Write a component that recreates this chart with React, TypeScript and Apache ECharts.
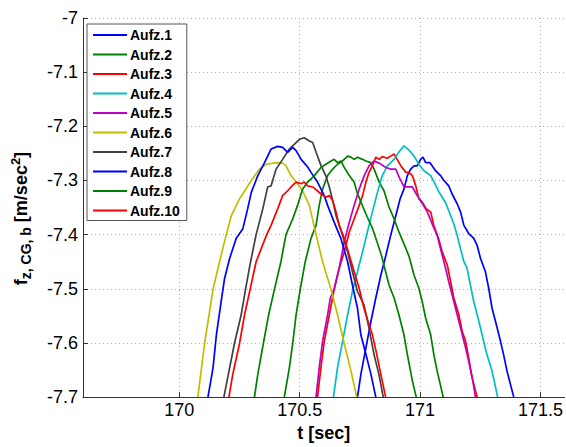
import React, { useEffect, useRef } from "react";
import * as echarts from "echarts";

const seriesNames = ["Aufz.1", "Aufz.2", "Aufz.3", "Aufz.4", "Aufz.5", "Aufz.6", "Aufz.7", "Aufz.8", "Aufz.9", "Aufz.10"];
const seriesColors = ["#0000ff", "#008000", "#ff0000", "#00bfbf", "#bf00bf", "#bfbf00", "#404040", "#0000ff", "#008000", "#ff0000"];

const xTicks = [170, 170.5, 171, 171.5];

const aufz1: [number, number][] = [
  [170.740, -7.700], [170.754, -7.658], [170.775, -7.609], [170.796, -7.560], [170.816, -7.517], [170.837, -7.475],
  [170.858, -7.438], [170.878, -7.401], [170.899, -7.365], [170.917, -7.334], [170.933, -7.316], [170.947, -7.291],
  [170.961, -7.279], [170.975, -7.273], [170.988, -7.273], [171.002, -7.261], [171.012, -7.257], [171.023, -7.267],
  [171.040, -7.267], [171.050, -7.273], [171.064, -7.282], [171.085, -7.291], [171.099, -7.300], [171.119, -7.310],
  [171.133, -7.325], [171.154, -7.343], [171.168, -7.358], [171.182, -7.383], [171.202, -7.398], [171.223, -7.407],
  [171.237, -7.420], [171.251, -7.444], [171.271, -7.468], [171.285, -7.499], [171.299, -7.536], [171.320, -7.572],
  [171.334, -7.597], [171.347, -7.622], [171.361, -7.652], [171.389, -7.700],
];

const aufz2: [number, number][] = [
  [170.436, -7.700], [170.457, -7.646], [170.471, -7.601], [170.485, -7.548], [170.503, -7.499], [170.523, -7.450],
  [170.547, -7.407], [170.568, -7.383], [170.581, -7.346], [170.595, -7.316], [170.616, -7.291], [170.637, -7.279],
  [170.657, -7.270], [170.678, -7.264], [170.699, -7.255], [170.713, -7.257], [170.726, -7.261], [170.740, -7.257],
  [170.761, -7.261], [170.775, -7.264], [170.795, -7.267], [170.809, -7.279], [170.830, -7.303], [170.850, -7.319],
  [170.871, -7.349], [170.892, -7.371], [170.912, -7.395], [170.933, -7.417], [170.954, -7.440], [170.975, -7.475],
  [170.995, -7.499], [171.009, -7.524], [171.023, -7.554], [171.044, -7.585], [171.057, -7.621], [171.071, -7.652],
  [171.096, -7.700],
];

const aufz3: [number, number][] = [
  [170.574, -7.700], [170.588, -7.646], [170.602, -7.597], [170.623, -7.548], [170.644, -7.499], [170.664, -7.462],
  [170.685, -7.432], [170.706, -7.395], [170.726, -7.371], [170.747, -7.346], [170.761, -7.328], [170.775, -7.303],
  [170.788, -7.285], [170.802, -7.273], [170.816, -7.257], [170.830, -7.261], [170.843, -7.256], [170.864, -7.259],
  [170.878, -7.255], [170.892, -7.251], [170.906, -7.262], [170.920, -7.273], [170.940, -7.285], [170.954, -7.285],
  [170.968, -7.291], [170.982, -7.310], [170.995, -7.334], [171.009, -7.340], [171.025, -7.352], [171.044, -7.358],
  [171.057, -7.383], [171.078, -7.409], [171.092, -7.432], [171.113, -7.456], [171.127, -7.487], [171.140, -7.517],
  [171.161, -7.548], [171.175, -7.579], [171.189, -7.597], [171.202, -7.628], [171.216, -7.664], [171.237, -7.700],
];

const aufz4: [number, number][] = [
  [170.640, -7.700], [170.657, -7.646], [170.678, -7.597], [170.699, -7.548], [170.719, -7.505], [170.740, -7.468],
  [170.761, -7.432], [170.781, -7.395], [170.802, -7.358], [170.823, -7.322], [170.843, -7.291], [170.864, -7.273],
  [170.892, -7.261], [170.913, -7.247], [170.933, -7.236], [170.954, -7.244], [170.975, -7.255], [170.995, -7.270],
  [171.016, -7.282], [171.044, -7.291], [171.064, -7.308], [171.078, -7.321], [171.092, -7.331], [171.106, -7.341],
  [171.119, -7.356], [171.140, -7.380], [171.154, -7.401], [171.168, -7.426], [171.182, -7.450], [171.195, -7.462],
  [171.209, -7.493], [171.223, -7.524], [171.244, -7.560], [171.264, -7.597], [171.278, -7.622], [171.299, -7.652],
  [171.322, -7.700],
];

const aufz5: [number, number][] = [
  [170.568, -7.700], [170.581, -7.646], [170.595, -7.597], [170.616, -7.548], [170.627, -7.517], [170.644, -7.499],
  [170.664, -7.462], [170.685, -7.413], [170.706, -7.377], [170.726, -7.346], [170.747, -7.316], [170.768, -7.291],
  [170.788, -7.273], [170.809, -7.264], [170.830, -7.268], [170.858, -7.276], [170.878, -7.279], [170.899, -7.279],
  [170.913, -7.294], [170.933, -7.312], [170.968, -7.312], [170.988, -7.328], [171.002, -7.337], [171.030, -7.358],
  [171.050, -7.380], [171.071, -7.401], [171.085, -7.426], [171.106, -7.462], [171.119, -7.487], [171.133, -7.511],
  [171.154, -7.548], [171.168, -7.572], [171.189, -7.609], [171.202, -7.634], [171.219, -7.670], [171.230, -7.700],
];

const aufz6: [number, number][] = [
  [170.077, -7.700], [170.105, -7.601], [170.140, -7.501], [170.167, -7.450], [170.195, -7.400], [170.216, -7.365],
  [170.250, -7.334], [170.299, -7.300], [170.333, -7.279], [170.361, -7.270], [170.402, -7.267], [170.429, -7.268],
  [170.443, -7.273], [170.464, -7.291], [170.485, -7.303], [170.512, -7.319], [170.540, -7.346], [170.568, -7.400],
  [170.595, -7.450], [170.630, -7.501], [170.657, -7.548], [170.685, -7.601], [170.713, -7.652], [170.737, -7.700],
];

const aufz7: [number, number][] = [
  [170.185, -7.700], [170.209, -7.646], [170.229, -7.601], [170.257, -7.548], [170.275, -7.501], [170.296, -7.450],
  [170.319, -7.400], [170.347, -7.352], [170.367, -7.312], [170.381, -7.310], [170.402, -7.279], [170.429, -7.261],
  [170.457, -7.242], [170.485, -7.230], [170.499, -7.224], [170.519, -7.221], [170.540, -7.227], [170.554, -7.230],
  [170.568, -7.248], [170.589, -7.273], [170.609, -7.292], [170.623, -7.312], [170.637, -7.337], [170.651, -7.365],
  [170.678, -7.401], [170.699, -7.432], [170.719, -7.468], [170.740, -7.505], [170.767, -7.530], [170.788, -7.573],
  [170.809, -7.622], [170.829, -7.658], [170.847, -7.700],
];

const aufz8: [number, number][] = [
  [170.119, -7.700], [170.140, -7.646], [170.154, -7.585], [170.174, -7.523], [170.188, -7.481], [170.209, -7.444],
  [170.236, -7.407], [170.264, -7.389], [170.284, -7.352], [170.299, -7.322], [170.326, -7.291], [170.354, -7.267],
  [170.381, -7.242], [170.409, -7.237], [170.429, -7.239], [170.450, -7.248], [170.471, -7.239], [170.485, -7.245],
  [170.506, -7.261], [170.533, -7.275], [170.547, -7.285], [170.574, -7.303], [170.602, -7.328], [170.616, -7.346],
  [170.643, -7.377], [170.671, -7.407], [170.699, -7.450], [170.719, -7.493], [170.740, -7.536], [170.754, -7.585],
  [170.775, -7.621], [170.796, -7.658], [170.816, -7.700],
];

const aufz9: [number, number][] = [
  [170.312, -7.700], [170.326, -7.658], [170.349, -7.601], [170.371, -7.548], [170.395, -7.501], [170.422, -7.450],
  [170.443, -7.400], [170.471, -7.371], [170.491, -7.346], [170.512, -7.316], [170.533, -7.303], [170.561, -7.291],
  [170.588, -7.276], [170.609, -7.270], [170.630, -7.264], [170.643, -7.261], [170.657, -7.267], [170.671, -7.264],
  [170.685, -7.276], [170.706, -7.291], [170.726, -7.303], [170.739, -7.323], [170.759, -7.345], [170.780, -7.367],
  [170.801, -7.387], [170.821, -7.413], [170.840, -7.439], [170.871, -7.493], [170.892, -7.517], [170.912, -7.548],
  [170.933, -7.585], [170.947, -7.621], [170.968, -7.670], [170.984, -7.700],
];

const aufz10: [number, number][] = [
  [170.206, -7.700], [170.222, -7.658], [170.250, -7.601], [170.271, -7.548], [170.294, -7.501], [170.319, -7.450],
  [170.363, -7.400], [170.381, -7.383], [170.409, -7.352], [170.429, -7.328], [170.450, -7.319], [170.464, -7.312],
  [170.485, -7.303], [170.506, -7.306], [170.519, -7.303], [170.533, -7.310], [170.554, -7.312], [170.589, -7.325],
  [170.609, -7.331], [170.623, -7.328], [170.637, -7.337], [170.651, -7.358], [170.664, -7.383], [170.685, -7.407],
  [170.706, -7.438], [170.726, -7.468], [170.747, -7.499], [170.767, -7.536], [170.788, -7.566], [170.802, -7.585],
  [170.820, -7.621], [170.837, -7.658], [170.857, -7.700],
];

const allData = [aufz1, aufz2, aufz3, aufz4, aufz5, aufz6, aufz7, aufz8, aufz9, aufz10];

const FONT = "'Liberation Sans', Arial, Helvetica, sans-serif";

export default function App() {
  const ref = useRef<HTMLDivElement>(null);
  useEffect(() => {
    if (!ref.current) return;
    const chart = echarts.init(ref.current, undefined, { renderer: "svg" });
    chart.setOption({
      animation: false,
      backgroundColor: "#ffffff",
      grid: { left: 83, top: 18, right: 0, bottom: 47, containLabel: false },
      legend: {
        orient: "vertical",
        left: 87,
        top: 24,
        padding: [4, 7, 3, 6],
        itemGap: 5.5,
        itemWidth: 34,
        itemHeight: 2,
        icon: "rect",
        backgroundColor: "#ffffff",
        borderColor: "#555555",
        borderWidth: 1,
        borderRadius: 0,
        textStyle: { fontFamily: FONT, fontSize: 14, fontWeight: "bold", color: "#000", lineHeight: 14, padding: [0, 0, 0, -2] },
        data: seriesNames,
      },
      xAxis: {
        type: "value",
        min: 169.6,
        max: 171.6,
        axisLine: { show: true, onZero: false, lineStyle: { color: "#333", width: 1 } },
        axisTick: { show: true, inside: true, length: 5, customValues: xTicks, lineStyle: { color: "#333" } },
        axisLabel: {
          customValues: xTicks,
          margin: 4,
          fontFamily: FONT,
          fontSize: 18,
          color: "#000",
          formatter: (v: number) => String(Math.round(v * 10) / 10),
        },
        splitLine: { show: true, lineStyle: { type: [1, 3], color: "#b0b0b0", width: 1 } },
        name: "t [sec]",
        nameLocation: "middle",
        nameGap: 23,
        nameTextStyle: { fontFamily: FONT, fontSize: 18, fontWeight: "bold", color: "#000" },
      },
      yAxis: {
        type: "value",
        min: -7.7,
        max: -7,
        interval: 0.1,
        axisLine: { show: true, onZero: false, lineStyle: { color: "#333", width: 1 } },
        axisTick: { show: true, inside: true, length: 5, lineStyle: { color: "#333" } },
        axisLabel: {
          margin: 5,
          fontFamily: FONT,
          fontSize: 18,
          color: "#000",
          formatter: (v: number) => String(Math.round(v * 10) / 10),
        },
        splitLine: { show: true, lineStyle: { type: [1, 3], color: "#b0b0b0", width: 1 } },
        name: "{f|f}{s|z, CG, b}{m| [m/sec}{p|2}{e|]}",
        nameLocation: "middle",
        nameRotate: 90,
        nameGap: 50,
        nameTextStyle: {
          fontFamily: FONT,
          fontWeight: "bold",
          color: "#000",
          rich: {
            f: { fontFamily: FONT, fontSize: 18, fontWeight: "bold", color: "#000", lineHeight: 24, verticalAlign: "middle" },
            m: { fontFamily: FONT, fontSize: 18, fontWeight: "bold", color: "#000", lineHeight: 24, verticalAlign: "middle" },
            e: { fontFamily: FONT, fontSize: 18, fontWeight: "bold", color: "#000", lineHeight: 24, verticalAlign: "middle", padding: [0, 22, 0, 0] },
            s: { fontFamily: FONT, fontSize: 14, fontWeight: "bold", color: "#000", lineHeight: 14, verticalAlign: "bottom" },
            p: { fontFamily: FONT, fontSize: 13, fontWeight: "bold", color: "#000", lineHeight: 13, verticalAlign: "top" },
          },
        },
      },
      series: allData.map((d, i) => ({
        name: seriesNames[i],
        type: "line",
        data: d,
        symbol: "none",
        showSymbol: false,
        clip: true,
        lineStyle: { color: seriesColors[i], width: 1.7 },
        itemStyle: { color: seriesColors[i] },
        emphasis: { disabled: true },
      })),
    });
    return () => chart.dispose();
  }, []);
  return <div ref={ref} style={{ position: "absolute", left: 0, top: 0, width: 566, height: 447 }} />;
}
